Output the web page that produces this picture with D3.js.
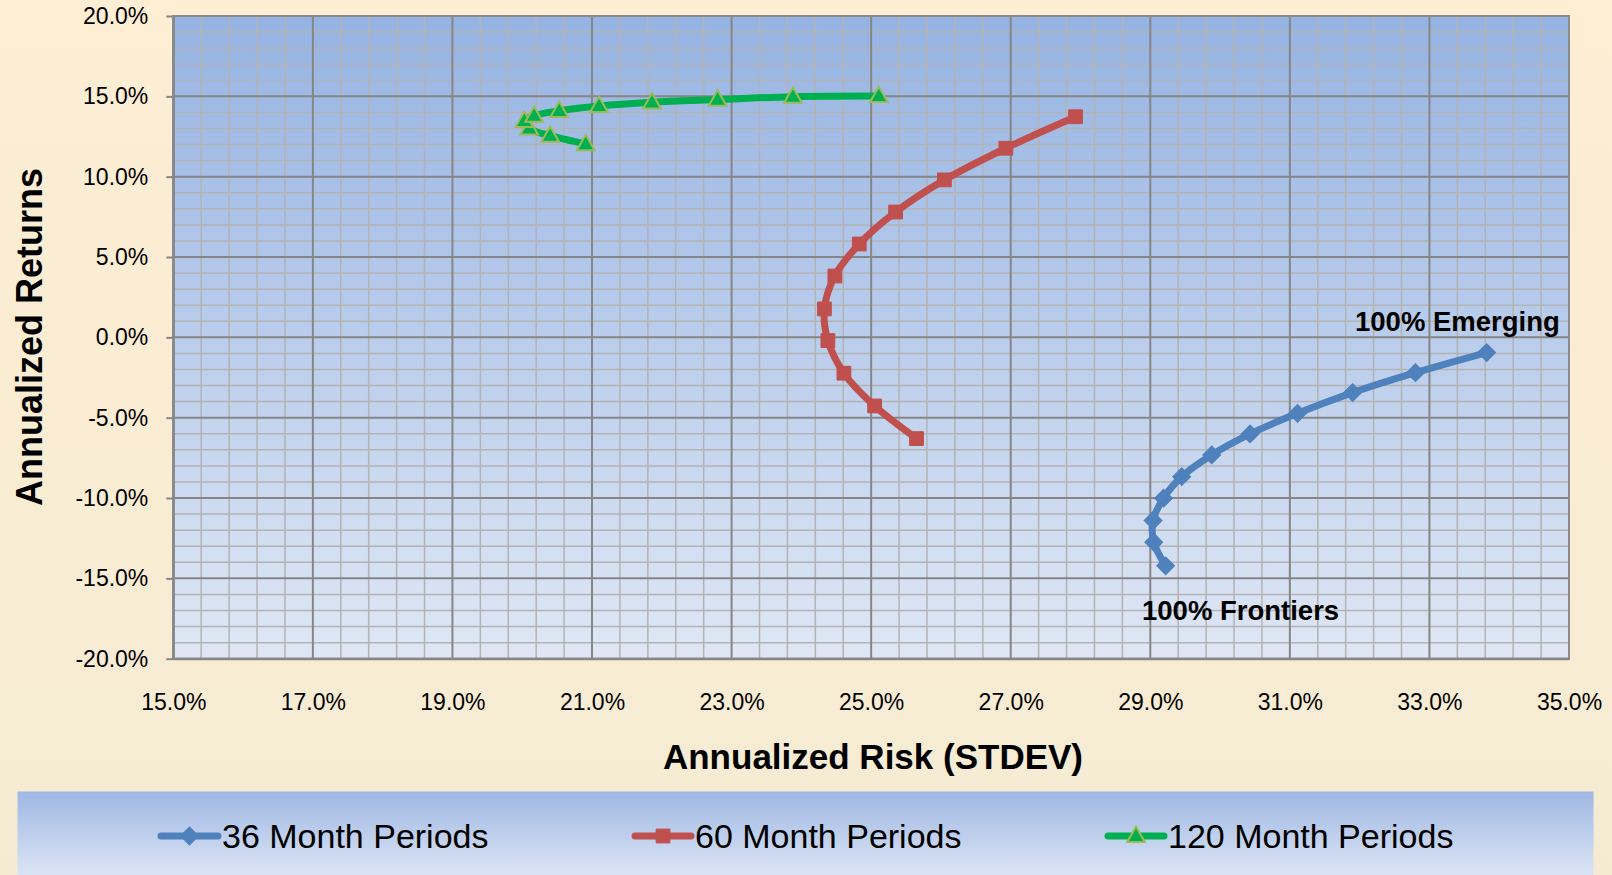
<!DOCTYPE html>
<html>
<head>
<meta charset="utf-8">
<script src="https://cdn.jsdelivr.net/npm/d3@7"></script>
<style>
  html, body { margin: 0; padding: 0; background: #fbedd4; }
  svg { display: block; }
  text { font-family: "Liberation Sans", Arial, sans-serif; fill: #000; }
</style>
</head>
<body>
<svg id="chart" width="1612" height="875"></svg>
<script>
// Risk / return pairs (annualized STDEV %, annualized return %), from 100% Frontiers to 100% Emerging
const risk36 = [29.22, 29.05, 29.04, 29.19, 29.45, 29.88, 30.43, 31.11, 31.90, 32.80, 33.82];
const ret36  = [-14.22, -12.75, -11.40, -10.01, -8.67, -7.32, -6.01, -4.73, -3.44, -2.20, -0.95];

const risk60 = [25.65, 25.05, 24.61, 24.38, 24.33, 24.48, 24.83, 25.35, 26.05, 26.93, 27.93];
const ret60  = [-6.30, -4.27, -2.23, -0.20, 1.77, 3.82, 5.81, 7.80, 9.80, 11.77, 13.73];

const risk120 = [20.91, 20.40, 20.10, 20.03, 20.17, 20.53, 21.10, 21.86, 22.80, 23.88, 25.11];
const ret120  = [12.03, 12.55, 13.00, 13.47, 13.80, 14.10, 14.40, 14.63, 14.80, 14.98, 15.02];

const seriesNames = ["36 Month Periods", "60 Month Periods", "120 Month Periods"];
const xTicks = [15, 17, 19, 21, 23, 25, 27, 29, 31, 33, 35];
const yTicks = [-20, -15, -10, -5, 0, 5, 10, 15, 20];
const xTitle = "Annualized Risk (STDEV)";
const yTitle = "Annualized Returns";
const labelEmerging = "100% Emerging";
const labelFrontiers = "100% Frontiers";

const svg = d3.select("#chart");
const W = 1612, H = 875;
const plot = { left: 173.3, right: 1569, top: 16, bottom: 658.7 };

const x = d3.scaleLinear().domain([15, 35]).range([plot.left, plot.right]);
const y = d3.scaleLinear().domain([-20, 20]).range([plot.bottom, plot.top]);
const pct = d => d.toFixed(1) + "%";

const defs = svg.append("defs");
const pageGrad = defs.append("linearGradient").attr("id", "pageGrad")
  .attr("x1", 0).attr("y1", 0).attr("x2", 0).attr("y2", 1);
pageGrad.append("stop").attr("offset", "0%").attr("stop-color", "#fdeed4");
pageGrad.append("stop").attr("offset", "100%").attr("stop-color", "#f5ebd3");

const plotGrad = defs.append("linearGradient").attr("id", "plotGrad")
  .attr("x1", 0).attr("y1", 0).attr("x2", 0).attr("y2", 1);
plotGrad.append("stop").attr("offset", "0%").attr("stop-color", "#95b3e2");
plotGrad.append("stop").attr("offset", "100%").attr("stop-color", "#dfe7f5");

const legGrad = defs.append("linearGradient").attr("id", "legGrad")
  .attr("x1", 0).attr("y1", 0).attr("x2", 0).attr("y2", 1);
legGrad.append("stop").attr("offset", "0%").attr("stop-color", "#9fb8e3");
legGrad.append("stop").attr("offset", "100%").attr("stop-color", "#dbe4f4");

// page background
svg.append("rect").attr("width", W).attr("height", H).attr("fill", "url(#pageGrad)");

// plot area
svg.append("rect")
  .attr("x", plot.left).attr("y", plot.top)
  .attr("width", plot.right - plot.left).attr("height", plot.bottom - plot.top)
  .attr("fill", "url(#plotGrad)");

// minor gridlines: every 0.4% of risk, every 1% of return
const grid = svg.append("g");
grid.selectAll(".mx").data(d3.range(1, 50).map(i => 15 + i * 0.4).filter((v, i) => (i + 1) % 5 !== 0))
  .join("line")
  .attr("x1", d => x(d)).attr("x2", d => x(d))
  .attr("y1", plot.top).attr("y2", plot.bottom)
  .attr("stroke", "#b3b3b3").attr("stroke-width", 1.5);
grid.selectAll(".my").data(d3.range(-19, 20).filter(v => v % 5 !== 0))
  .join("line")
  .attr("x1", plot.left).attr("x2", plot.right)
  .attr("y1", d => y(d)).attr("y2", d => y(d))
  .attr("stroke", "#b3b3b3").attr("stroke-width", 1.5);

// major gridlines
grid.selectAll(".Mx").data(xTicks)
  .join("line")
  .attr("x1", d => x(d)).attr("x2", d => x(d))
  .attr("y1", plot.top).attr("y2", plot.bottom)
  .attr("stroke", "#868686").attr("stroke-width", 2);
grid.selectAll(".My").data(yTicks)
  .join("line")
  .attr("x1", plot.left).attr("x2", plot.right)
  .attr("y1", d => y(d)).attr("y2", d => y(d))
  .attr("stroke", "#868686").attr("stroke-width", 2);

// plot border
svg.append("rect")
  .attr("x", plot.left).attr("y", plot.top)
  .attr("width", plot.right - plot.left).attr("height", plot.bottom - plot.top)
  .attr("fill", "none").attr("stroke", "#8a8a8a").attr("stroke-width", 2);

// axes
const yAxis = svg.append("g")
  .attr("transform", `translate(${plot.left},0)`)
  .call(d3.axisLeft(y).tickValues(yTicks).tickFormat(pct).tickSize(7).tickSizeOuter(0).tickPadding(18));
const xAxis = svg.append("g")
  .attr("transform", `translate(0,${plot.bottom})`)
  .call(d3.axisBottom(x).tickValues(xTicks).tickFormat(pct).tickSize(0).tickSizeOuter(0));

[yAxis, xAxis].forEach(a => {
  a.select(".domain").attr("stroke", "#868686").attr("stroke-width", 2);
  a.selectAll(".tick line").attr("stroke", "#868686").attr("stroke-width", 2);
  a.selectAll(".tick text")
    .style("font-family", "'Liberation Sans', Arial, sans-serif")
    .style("font-size", "23px").attr("fill", "#000");
});
xAxis.selectAll(".tick text").attr("dy", null).attr("y", 51.5);

// axis titles
svg.append("text")
  .attr("x", 873).attr("y", 769)
  .attr("text-anchor", "middle")
  .style("font-size", "35px").style("font-weight", "bold")
  .text(xTitle);
svg.append("text")
  .attr("transform", "translate(42,337) rotate(-90)")
  .attr("text-anchor", "middle")
  .style("font-size", "36px").style("font-weight", "bold")
  .text(yTitle);

// series
const series = [
  { name: seriesNames[0], xs: risk36, ys: ret36, color: "#4f81bd", marker: "diamond" },
  { name: seriesNames[1], xs: risk60, ys: ret60, color: "#c0504d", marker: "square" },
  { name: seriesNames[2], xs: risk120, ys: ret120, color: "#00b050", marker: "triangle" }
];

const line = d3.line()
  .x(d => x(d[0])).y(d => y(d[1]))
  .curve(d3.curveCatmullRom.alpha(0.5));

function markerPath(kind) {
  if (kind === "diamond") return d3.symbol(d3.symbolSquare, 160)();
  if (kind === "square") return d3.symbol(d3.symbolSquare, 190)();
  return d3.symbol(d3.symbolTriangle, 135)();
}
function markerTransform(kind, px, py) {
  if (kind === "diamond") return `translate(${px},${py}) rotate(45)`;
  if (kind === "triangle") return `translate(${px},${py + 1})`;
  return `translate(${px},${py})`;
}
function styleMarker(sel, s) {
  sel.attr("d", markerPath(s.marker))
    .attr("fill", s.color)
    .attr("stroke", s.marker === "triangle" ? "#9bbb59" : s.color)
    .attr("stroke-width", s.marker === "triangle" ? 2 : 1);
}

series.forEach(s => {
  const pts = s.xs.map((v, i) => [v, s.ys[i]]);
  const g = svg.append("g");
  g.append("path")
    .attr("d", line(pts))
    .attr("fill", "none")
    .attr("stroke", s.color)
    .attr("stroke-width", 7)
    .attr("stroke-linejoin", "round")
    .attr("stroke-linecap", "round");
  g.selectAll("path.m").data(pts).join("path")
    .attr("class", "m")
    .attr("transform", d => markerTransform(s.marker, x(d[0]), y(d[1])))
    .call(sel => styleMarker(sel, s));
});

// endpoint annotations
svg.append("text")
  .attr("x", 1355).attr("y", 330.5)
  .style("font-size", "27.5px").style("font-weight", "bold")
  .text(labelEmerging);
svg.append("text")
  .attr("x", 1142).attr("y", 620)
  .style("font-size", "27.5px").style("font-weight", "bold")
  .text(labelFrontiers);

// legend
svg.append("rect")
  .attr("x", 17.5).attr("y", 791.5)
  .attr("width", 1576).attr("height", H - 791.5)
  .attr("fill", "url(#legGrad)");

const legendItems = [
  { s: series[0], x0: 161, x1: 218, tx: 222 },
  { s: series[1], x0: 635, x1: 691, tx: 695 },
  { s: series[2], x0: 1108, x1: 1164, tx: 1168 }
];
const ly = 836;
legendItems.forEach(it => {
  const g = svg.append("g");
  g.append("line")
    .attr("x1", it.x0).attr("x2", it.x1)
    .attr("y1", ly).attr("y2", ly)
    .attr("stroke", it.s.color).attr("stroke-width", 7)
    .attr("stroke-linecap", "round");
  g.append("path")
    .attr("transform", markerTransform(it.s.marker, (it.x0 + it.x1) / 2, ly))
    .call(sel => styleMarker(sel, it.s));
  g.append("text")
    .attr("x", it.tx).attr("y", ly + 12)
    .style("font-size", "34px")
    .text(it.s.name);
});
</script>
</body>
</html>
